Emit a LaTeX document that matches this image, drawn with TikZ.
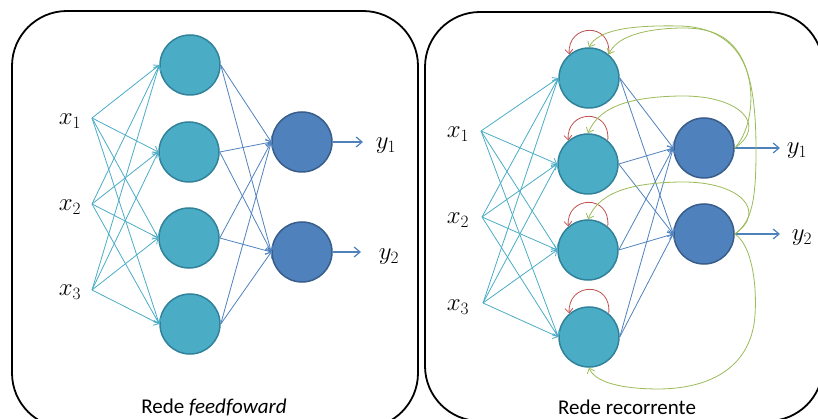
\documentclass[tikz,border=0pt]{standalone}
\usepackage[no-math]{fontspec}
\setmainfont{Carlito}
\usetikzlibrary{arrows.meta}

\definecolor{hidfill}{HTML}{4BACC6}
\definecolor{hiddraw}{HTML}{31829A}
\definecolor{outfill}{HTML}{4F81BD}
\definecolor{outdraw}{HTML}{385D8A}
\definecolor{inline}{HTML}{4BACC6}
\definecolor{holine}{HTML}{4F81BD}
\definecolor{loopred}{HTML}{C0504D}
\definecolor{fbgreen}{HTML}{9BBB59}

\tikzset{
  panel/.style={draw=black, line width=1.8pt, rounded corners=55pt},
  hidnode/.style={circle, minimum size=60pt, inner sep=0pt, fill=hidfill, draw=hiddraw, line width=1.5pt},
  outnode/.style={circle, minimum size=60pt, inner sep=0pt, fill=outfill, draw=outdraw, line width=1.5pt},
  tip/.style={-{Straight Barb[length=4.5pt,width=8pt]}},
  inarrow/.style={tip, draw=inline, line width=0.8pt},
  hoarrow/.style={tip, draw=holine, line width=0.8pt},
  outarrow/.style={-{Straight Barb[length=6pt,width=10pt]}, draw=holine, line width=1.2pt},
  selfloop/.style={tip, draw=loopred, line width=0.8pt},
  fback/.style={tip, draw=fbgreen, line width=0.8pt},
  mathlbl/.style={font=\fontsize{25}{29}\selectfont, inner sep=0pt},
  title/.style={font=\fontsize{21}{25}\selectfont, inner sep=0pt}
}

\begin{document}
\begin{tikzpicture}[x=1pt, y=-1pt]
\useasboundingbox (0,0) rectangle (818,419);

% ---------- panels ----------
\draw[panel] (12,11) rectangle (418,428);
\draw[panel] (425,12) rectangle (823,421);

% ---------- feedforward network ----------
\node[hidnode] (a1) at (190,65) {};
\node[hidnode] (a2) at (189,152) {};
\node[hidnode] (a3) at (189,238) {};
\node[hidnode] (a4) at (190,324) {};
\node[outnode] (ao1) at (302,142) {};
\node[outnode] (ao2) at (302,252) {};

\node[mathlbl] (ax1) at (70,121) {$x_1$};
\node[mathlbl] (ax2) at (70,207) {$x_2$};
\node[mathlbl] (ax3) at (70,292) {$x_3$};
\coordinate (as1) at (92,118);
\coordinate (as2) at (92,204);
\coordinate (as3) at (92,290);

\foreach \s in {1,2,3}
  \foreach \h in {1,...,4}
    \draw[inarrow] (as\s) -- (a\h.west);
\foreach \h in {1,...,4}
  \foreach \o in {1,2}
    \draw[hoarrow] (a\h.east) -- (ao\o.west);

\coordinate (ae1) at (363,142);
\coordinate (ae2) at (361,252);
\draw[outarrow] (ao1.east) -- (ae1);
\draw[outarrow] (ao2.east) -- (ae2);
\node[mathlbl] (ay1) at (386,146) {$y_1$};
\node[mathlbl] (ay2) at (389,257) {$y_2$};

\node[title] (at) at (214,407) {Rede \textit{feedfoward}};

% ---------- recurrent network ----------
\node[hidnode] (r1) at (589,78) {};
\node[hidnode] (r2) at (588,164) {};
\node[hidnode] (r3) at (588,250) {};
\node[hidnode] (r4) at (589,337) {};
\node[outnode] (ro1) at (704,148) {};
\node[outnode] (ro2) at (704,234) {};

\node[mathlbl] (rx1) at (458,134) {$x_1$};
\node[mathlbl] (rx2) at (458,220) {$x_2$};
\node[mathlbl] (rx3) at (458,307) {$x_3$};
\coordinate (rs1) at (481,131);
\coordinate (rs2) at (482,217);
\coordinate (rs3) at (483,303);

\foreach \s in {1,2,3}
  \foreach \h in {1,...,4}
    \draw[inarrow] (rs\s) -- (r\h.west);
\foreach \h in {1,...,4}
  \foreach \o in {1,2}
    \draw[hoarrow] (r\h.east) -- (ro\o.west);

\coordinate (re1) at (780,148);
\coordinate (re2) at (780,234);
\draw[outarrow] (ro1.east) -- (re1);
\draw[outarrow] (ro2.east) -- (re2);
\node[mathlbl] (ry1) at (797,151) {$y_1$};
\node[mathlbl] (ry2) at (802,238) {$y_2$};

% self-recurrent loops on the hidden units
\foreach \h in {1,...,4}
  \draw[selfloop] (r\h.50) .. controls +(3,-33) and +(-2,-31) .. (r\h.130);

% feedback from the outputs to the hidden units
\draw[fback] (ro1.east) .. controls (760,122) and (765,28) .. (680,26)
                        .. controls (630,25) and (598,30) .. (r1.north);
\draw[fback] (ro2.east) .. controls (752,222) and (756,200) .. (756,150)
                        .. controls (756,55) and (735,27) .. (680,28)
                        .. controls (640,29) and (616,38) .. (r1.50);
\draw[fback] (ro1.east) .. controls (768,125) and (740,95) .. (680,96)
                        .. controls (622,97) and (598,110) .. (r2.north);
\draw[fback] (ro2.east) .. controls (768,211) and (740,181) .. (680,182)
                        .. controls (622,183) and (598,196) .. (r3.north);
\draw[fback] (ro2.east) .. controls (752,245) and (757,285) .. (755,315)
                        .. controls (752,360) and (720,388) .. (660,389)
                        .. controls (620,389) and (595,382) .. (r4.south);

\node[title] (rt) at (627,407) {Rede recorrente};
\end{tikzpicture}
\end{document}
